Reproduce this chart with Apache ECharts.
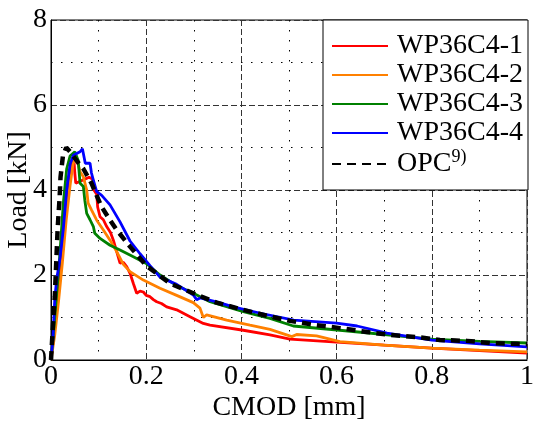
<!DOCTYPE html>
<html>
<head>
<meta charset="utf-8">
<script src="https://cdn.jsdelivr.net/npm/echarts@6/dist/echarts.min.js"></script>
<style>
  html, body { margin: 0; padding: 0; background: #fff; }
  #chart { width: 533px; height: 425px; }
</style>
</head>
<body>
<div id="chart"></div>
<script>
// tick values
const xTicks = [0, 0.2, 0.4, 0.6, 0.8, 1]
const yTicks = [0, 2, 4, 6, 8]

const seriesNames = ['WP36C4-1', 'WP36C4-2', 'WP36C4-3', 'WP36C4-4', 'OPC']

// [CMOD (mm), Load (kN)]
const wp1 = [
  [0, 0], [0.006, 0.6], [0.012, 1.3], [0.02, 2.4], [0.028, 3.4], [0.036, 4.2], [0.044, 4.7],
  [0.048, 4.75], [0.05, 4.4], [0.052, 4.16], [0.06, 4.2], [0.07, 4.25], [0.08, 4.3], [0.088, 4.25],
  [0.09, 4.0], [0.096, 3.9], [0.098, 3.6], [0.103, 3.37], [0.11, 3.3], [0.117, 3.14], [0.125, 3.0],
  [0.131, 2.82], [0.138, 2.55], [0.145, 2.28], [0.152, 2.3], [0.159, 2.2], [0.166, 2.04],
  [0.173, 1.8], [0.18, 1.57], [0.187, 1.62], [0.194, 1.6], [0.2, 1.52], [0.208, 1.49], [0.215, 1.42],
  [0.222, 1.37], [0.232, 1.33], [0.243, 1.25], [0.264, 1.18], [0.292, 1.02], [0.32, 0.86],
  [0.334, 0.82], [0.404, 0.7], [0.46, 0.59], [0.502, 0.49], [0.6, 0.42], [0.7, 0.35],
  [0.8, 0.28], [0.9, 0.22], [1.0, 0.16]
]
const wp2 = [
  [0, 0], [0.008, 0.6], [0.016, 1.4], [0.024, 2.3], [0.032, 3.3], [0.04, 4.1], [0.046, 4.6],
  [0.05, 4.75], [0.055, 4.7], [0.061, 4.43], [0.068, 4.31], [0.075, 4.0], [0.078, 3.69],
  [0.085, 3.53], [0.096, 3.29], [0.11, 3.06], [0.124, 2.82], [0.138, 2.55], [0.152, 2.25],
  [0.166, 2.08], [0.194, 1.88], [0.229, 1.69], [0.264, 1.52], [0.299, 1.35], [0.313, 1.22],
  [0.32, 1.0], [0.327, 1.06], [0.369, 0.94], [0.418, 0.82], [0.46, 0.72], [0.506, 0.55],
  [0.516, 0.6], [0.558, 0.57], [0.607, 0.43], [0.7, 0.35], [0.8, 0.28], [0.9, 0.23], [1.0, 0.19]
]
const wp3 = [
  [0, 0], [0.005, 0.6], [0.01, 1.3], [0.018, 2.4], [0.026, 3.7], [0.033, 4.5], [0.04, 4.8],
  [0.05, 4.9], [0.057, 4.7], [0.061, 4.16], [0.068, 4.08], [0.071, 3.76], [0.075, 3.45],
  [0.082, 3.3], [0.089, 3.14], [0.092, 2.98], [0.103, 2.86], [0.124, 2.7], [0.145, 2.59],
  [0.173, 2.43], [0.2, 2.27], [0.229, 2.0], [0.264, 1.75], [0.299, 1.57], [0.334, 1.37],
  [0.404, 1.14], [0.46, 0.98], [0.509, 0.8], [0.607, 0.7], [0.8, 0.49], [0.9, 0.44], [1.0, 0.4]
]
const wp4 = [
  [0, 0], [0.004, 0.5], [0.008, 1.45], [0.012, 1.9], [0.019, 2.4], [0.026, 3.1], [0.033, 4.0],
  [0.04, 4.6], [0.047, 4.82], [0.061, 4.9], [0.066, 4.97], [0.07, 4.98], [0.072, 4.63],
  [0.082, 4.63], [0.085, 4.4], [0.089, 4.23], [0.096, 3.96], [0.106, 3.88], [0.124, 3.65],
  [0.145, 3.25], [0.166, 2.8], [0.187, 2.5], [0.208, 2.22], [0.229, 1.95], [0.264, 1.78],
  [0.299, 1.53], [0.306, 1.42], [0.313, 1.46], [0.35, 1.36], [0.383, 1.25], [0.44, 1.1],
  [0.51, 0.94], [0.6, 0.87], [0.643, 0.8], [0.706, 0.63], [0.8, 0.47], [0.9, 0.38], [1.0, 0.31]
]
const opc = [
  [0, 0], [0.004, 0.8], [0.008, 1.5], [0.011, 2.3], [0.014, 3.1], [0.018, 3.8], [0.02, 4.3],
  [0.025, 4.8], [0.032, 5.0], [0.04, 4.9], [0.05, 4.75], [0.061, 4.59], [0.068, 4.5],
  [0.085, 4.16], [0.106, 3.61], [0.124, 3.29], [0.138, 3.06], [0.166, 2.67], [0.2, 2.22],
  [0.25, 1.8], [0.299, 1.57], [0.348, 1.35], [0.404, 1.18], [0.454, 1.04], [0.502, 0.92],
  [0.558, 0.82], [0.607, 0.75], [0.664, 0.66], [0.712, 0.59], [0.769, 0.54], [0.817, 0.47],
  [0.874, 0.45], [0.922, 0.4], [0.979, 0.38], [1.0, 0.37]
]

const colors = ['#ff0000', '#ff8000', '#008000', '#0000ff', '#000000']
const font = "'Liberation Serif', 'DejaVu Serif', serif"

const chart = echarts.init(document.getElementById('chart'))

function lineSeries(name, data, color, width, type) {
  return {
    name: name,
    type: 'line',
    data: data,
    symbol: 'none',
    showSymbol: false,
    lineStyle: { color: color, width: width, type: type },
    itemStyle: { color: color },
    animation: false
  }
}

chart.setOption({
  animation: false,
  grid: {
    left: 51, right: 6, top: 20, bottom: 65,
    outerBoundsMode: 'none',
    containLabel: false,
    show: true, borderColor: '#000', borderWidth: 1
  },
  legend: {
    orient: 'vertical',
    left: 323,
    top: 20,
    padding: [12, 5, 12, 8],
    itemGap: 1,
    itemWidth: 56,
    itemHeight: 4,
    itemStyle: { opacity: 0 },
    backgroundColor: '#fff',
    borderColor: '#000',
    borderWidth: 1,
    borderRadius: 0,
    data: seriesNames,
    formatter: function (name) {
      return name === 'OPC' ? 'OPC{sup|9)}' : name
    },
    textStyle: {
      fontFamily: font,
      fontSize: 28,
      lineHeight: 28,
      color: '#000',
      padding: [0, 0, 0, 4],
      rich: {
        sup: { fontFamily: font, fontSize: 18, color: '#000', padding: [0, 0, 14, 0] }
      }
    }
  },
  xAxis: {
    type: 'value',
    min: xTicks[0],
    max: xTicks[xTicks.length - 1],
    interval: 0.2,
    name: 'CMOD [mm]',
    nameLocation: 'middle',
    nameGap: 34,
    nameMoveOverlap: false,
    nameTextStyle: { fontFamily: font, fontSize: 28, color: '#000' },
    axisLine: { show: true, lineStyle: { color: '#000', width: 1 } },
    axisTick: { show: false },
    axisLabel: { fontFamily: font, fontSize: 28, color: '#000', margin: 3 },
    splitLine: { show: true, lineStyle: { color: '#333', width: 1, type: [6, 3] } },
    minorTick: { show: false, splitNumber: 2 },
    minorSplitLine: { show: true, lineStyle: { color: '#000', width: 1, type: [1.5, 8.5] } }
  },
  yAxis: {
    type: 'value',
    min: yTicks[0],
    max: yTicks[yTicks.length - 1],
    interval: 2,
    name: 'Load [kN]',
    nameLocation: 'middle',
    nameGap: 18,
    nameMoveOverlap: false,
    nameTextStyle: { fontFamily: font, fontSize: 28, color: '#000' },
    axisLine: { show: true, lineStyle: { color: '#000', width: 1 } },
    axisTick: { show: false },
    axisLabel: { fontFamily: font, fontSize: 28, color: '#000', margin: 4 },
    splitLine: { show: true, lineStyle: { color: '#333', width: 1, type: [6, 3] } },
    minorTick: { show: false, splitNumber: 2 },
    minorSplitLine: { show: true, lineStyle: { color: '#000', width: 1, type: [1.5, 8.5] } }
  },
  series: [
    lineSeries(seriesNames[0], wp1, colors[0], 2.8, 'solid'),
    lineSeries(seriesNames[1], wp2, colors[1], 2.8, 'solid'),
    lineSeries(seriesNames[2], wp3, colors[2], 2.8, 'solid'),
    lineSeries(seriesNames[3], wp4, colors[3], 2.8, 'solid'),
    lineSeries(seriesNames[4], opc, colors[4], 4.5, [9, 6])
  ]
})
</script>
</body>
</html>
